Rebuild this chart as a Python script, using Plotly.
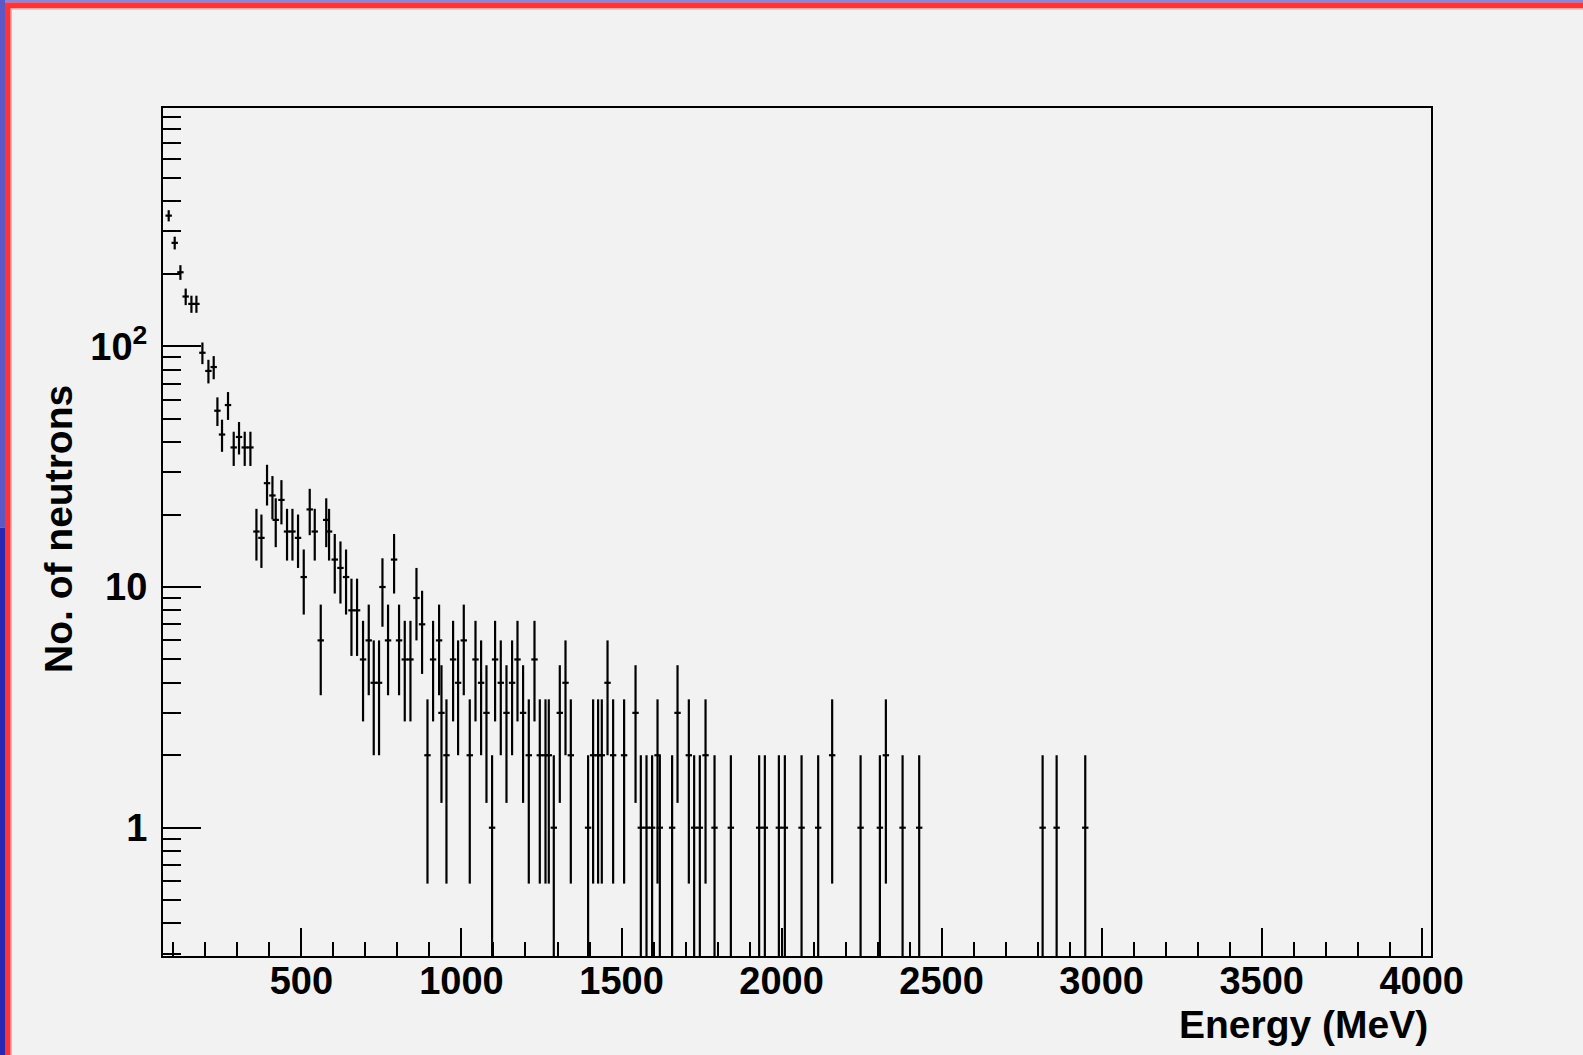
import numpy as np
import plotly.graph_objects as go

# ---- data ----
energy_mev = [85.3, 104.1, 121.9, 138.4, 156.3, 171.9, 190.6, 209.4, 225.9, 237.5,
              251.9, 270.6, 288.4, 305.0, 322.8, 340.6, 359.4, 375.0, 392.5, 409.4,
              419.7, 437.5, 455.0, 471.9, 489.4, 507.2, 525.9, 541.6, 560.3, 577.5,
              586.3, 604.1, 621.9, 639.4, 656.3, 673.8, 692.5, 710.3, 725.9, 742.5,
              753.1, 770.6, 789.4, 805.0, 822.8, 840.6, 859.4, 876.9, 893.8, 911.3,
              930.0, 937.5, 953.1, 973.8, 989.4, 1007.2, 1025.9, 1043.8, 1061.3, 1078.1,
              1095.6, 1105.0, 1122.8, 1140.6, 1158.1, 1175.0, 1192.5, 1210.3, 1228.1, 1244.7,
              1262.5, 1272.8, 1288.4, 1307.2, 1325.0, 1341.6, 1395.6, 1411.3, 1426.9, 1438.4,
              1456.3, 1473.8, 1508.1, 1543.8, 1560.3, 1578.1, 1595.6, 1612.5, 1619.7, 1658.1,
              1675.0, 1710.3, 1726.9, 1744.7, 1762.5, 1790.6, 1841.6, 1930.0, 1947.8, 1991.6,
              2010.3, 2062.5, 2114.4, 2158.1, 2246.9, 2307.2, 2325.9, 2378.1, 2430.0, 2815.6,
              2859.4, 2948.8]
neutron_counts = [349, 269, 203, 161, 150, 150, 94, 79, 82, 54,
                  43, 57, 38, 42, 38, 38, 17, 16, 27, 24,
                  19, 23, 17, 17, 16, 11, 21, 17, 6, 19,
                  17, 13, 12, 11, 8, 8, 5, 6, 4, 4,
                  10, 6, 13, 6, 5, 5, 9, 7, 2, 5,
                  6, 3, 2, 5, 4, 6, 2, 5, 4, 3,
                  1, 5, 4, 3, 4, 5, 3, 2, 5, 2,
                  2, 2, 1, 3, 4, 2, 1, 2, 2, 2,
                  4, 2, 2, 3, 1, 1, 1, 2, 1, 1,
                  3, 2, 1, 1, 2, 1, 1, 1, 1, 1,
                  1, 1, 1, 2, 1, 1, 2, 1, 1, 1,
                  1, 1]
bin_half_width = 10.0  # MeV

x_major = [500, 1000, 1500, 2000, 2500, 3000, 3500, 4000]
x_tick_labels = ["500", "1000", "1500", "2000", "2500", "3000", "3500", "4000"]
y_major = [1, 10, 100]
y_tick_labels = ["1", "10", "10<sup>2</sup>"]

x_title = "Energy (MeV)"
y_title = "No. of neutrons"

# ---- layout geometry ----
W, H = 1583, 1055
L, R, T, B = 163, 152, 108, 99
x_range = [67.5, 4029]
y_range = [-0.533, 2.990]

counts = np.array(neutron_counts, dtype=float)
err = np.sqrt(counts)
y_floor = 10 ** y_range[0] * 0.9
err_minus = counts - np.maximum(counts - err, y_floor)

x_minor = [v for v in range(100, 4001, 100) if v % 500 != 0]
y_minor = [m * 10 ** d for d in range(-1, 3) for m in range(2, 10) if 0.29 < m * 10 ** d < 980]

fig = go.Figure()
fig.add_trace(go.Scatter(
    x=energy_mev, y=neutron_counts, mode="markers",
    marker=dict(size=2, color="black"),
    error_y=dict(type="data", symmetric=False, array=err, arrayminus=err_minus,
                 color="black", thickness=2.2, width=0),
    error_x=dict(type="constant", value=bin_half_width, color="black", thickness=2.2, width=0),
    showlegend=False, hoverinfo="x+y",
))

font_family = "Liberation Sans, Arial, sans-serif"
fig.update_layout(
    width=W, height=H,
    margin=dict(l=L, r=R, t=T, b=B, pad=0),
    paper_bgcolor="#f2f2f2", plot_bgcolor="#f2f2f2",
    font=dict(family=font_family, color="black"),
    xaxis=dict(range=x_range, showgrid=False, zeroline=False,
               showline=True, linecolor="black", linewidth=2, mirror=True,
               tickmode="array", tickvals=x_major, ticktext=x_tick_labels,
               ticks="inside", ticklen=28, tickwidth=2, tickcolor="black",
               ticklabelstandoff=-10,
               tickfont=dict(size=38, family=font_family, weight="bold"),
               minor=dict(tickmode="array", tickvals=x_minor, ticks="inside",
                          ticklen=14, tickwidth=2, tickcolor="black", showgrid=False)),
    yaxis=dict(type="log", range=y_range, showgrid=False, zeroline=False,
               showline=True, linecolor="black", linewidth=2, mirror=True,
               tickmode="array", tickvals=y_major, ticktext=y_tick_labels,
               ticks="inside", ticklen=38, tickwidth=2, tickcolor="black",
               ticklabelstandoff=6,
               tickfont=dict(size=38, family=font_family, weight="bold"),
               minor=dict(tickmode="array", tickvals=y_minor, ticks="inside",
                          ticklen=18, tickwidth=2, tickcolor="black", showgrid=False)),
)

pw, ph = W - L - R, H - T - B
def px(xp):
    return (xp - L) / pw
def py(yp):
    return (H - B - yp) / ph

fig.add_annotation(text=x_title, xref="paper", yref="paper", x=px(1430), y=py(1024),
                   xanchor="right", yanchor="middle", showarrow=False,
                   font=dict(size=39, family=font_family, weight="bold"))
fig.add_annotation(text=y_title, xref="paper", yref="paper", x=px(58), y=py(529),
                   xanchor="center", yanchor="middle", textangle=-90, showarrow=False,
                   font=dict(size=39, family=font_family, weight="bold"))

# slide frame: blue outer edge and red border (top and left)
frame = [
    (0, 0, W, 3, "#8a86d8"),
    (0, 3, W, 8.5, "#ff3535"),
    (0, 0, 5, H * 0.5, "#5c58c8"),
    (0, H * 0.5, 5, H, "#2a26b4"),
    (5, 3, 10.7, H, "#ff3535"),
    (10.7, 8.5, 12, H, "#f7b0b0"),
    (10.7, 8.5, W, 9.7, "#f7b0b0"),
]
for x0, y0, x1, y1, c in frame:
    fig.add_shape(type="rect", xref="paper", yref="paper",
                  x0=px(x0), x1=px(x1), y0=py(y0), y1=py(y1),
                  fillcolor=c, line=dict(width=0), layer="below")

fig.write_html("out.html")
